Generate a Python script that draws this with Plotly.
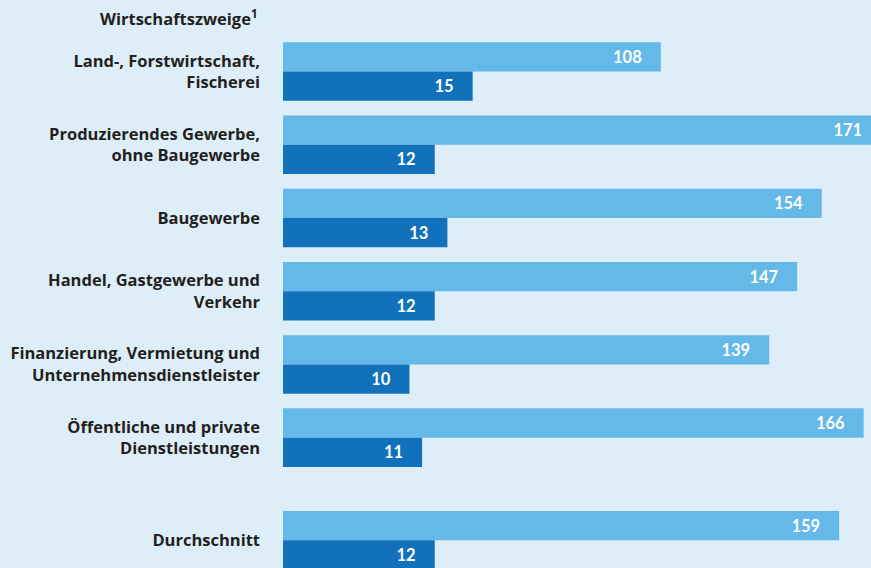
import plotly.graph_objects as go

categories = [
    "Land-, Forstwirtschaft,<br>Fischerei",
    "Produzierendes Gewerbe,<br>ohne Baugewerbe",
    "Baugewerbe",
    "Handel, Gastgewerbe und<br>Verkehr",
    "Finanzierung, Vermietung und<br>Unternehmensdienstleister",
    "Öffentliche und private<br>Dienstleistungen",
    "Durchschnitt",
]
series_light = [108, 171, 154, 147, 139, 166, 159]
series_dark = [15, 12, 13, 12, 10, 11, 12]
title_text = "Wirtschaftszweige<sup>1</sup>"

# layout positions (the average row sits a bit further down)
pos = [0, 1, 2, 3, 4, 5, 6.4]

LIGHT = "#64b9e8"
DARK = "#1172bb"
BG = "#deeef9"
INK = "#231f20"
LABEL_FONT = "Open Sans"
VALUE_FONT = "Lato"
pad = "\u00a0" * 4

fig = go.Figure()
fig.add_trace(go.Bar(
    y=pos, x=series_light, orientation="h", xaxis="x", yaxis="y",
    marker=dict(color=LIGHT, line=dict(width=0)),
    width=0.4, offset=-0.4,
    text=[f"{v}{pad}" for v in series_light],
    textposition="inside", insidetextanchor="end",
    textfont=dict(family=VALUE_FONT, size=16.5, color="white", weight="bold"),
    cliponaxis=True, showlegend=False, hoverinfo="skip",
))
fig.add_trace(go.Bar(
    y=pos, x=series_dark, orientation="h", xaxis="x2", yaxis="y",
    marker=dict(color=DARK, line=dict(width=0)),
    width=0.4, offset=0.0,
    text=[f"{v}{pad}" for v in series_dark],
    textposition="inside", insidetextanchor="end",
    textfont=dict(family=VALUE_FONT, size=16.5, color="white", weight="bold"),
    cliponaxis=True, showlegend=False, hoverinfo="skip",
))

fig.update_layout(
    width=871, height=568,
    margin=dict(l=283, r=0, t=0, b=0),
    paper_bgcolor=BG, plot_bgcolor=BG,
    font=dict(family=LABEL_FONT, color=INK),
    xaxis=dict(range=[0, 168.1], visible=False, fixedrange=True),
    xaxis2=dict(range=[0, 46.5], overlaying="x", visible=False, fixedrange=True),
    yaxis=dict(
        range=[6.78, -0.977], tickvals=pos, ticktext=categories,
        showgrid=False, zeroline=False, showline=False, ticks="",
        ticklabelstandoff=22,
        tickfont=dict(family=LABEL_FONT, size=16.5, color=INK, weight="bold"),
    ),
    annotations=[dict(
        text=title_text, xref="paper", yref="paper", x=0, y=1,
        xshift=-23, yshift=-4,
        xanchor="right", yanchor="top", showarrow=False,
        font=dict(family=LABEL_FONT, size=16.5, color=INK, weight="bold"),
    )],
)

fig.write_html(
    "out.html",
    config={"displayModeBar": False},
    post_script="document.body.style.margin='0';document.body.style.overflow='hidden';",
)
